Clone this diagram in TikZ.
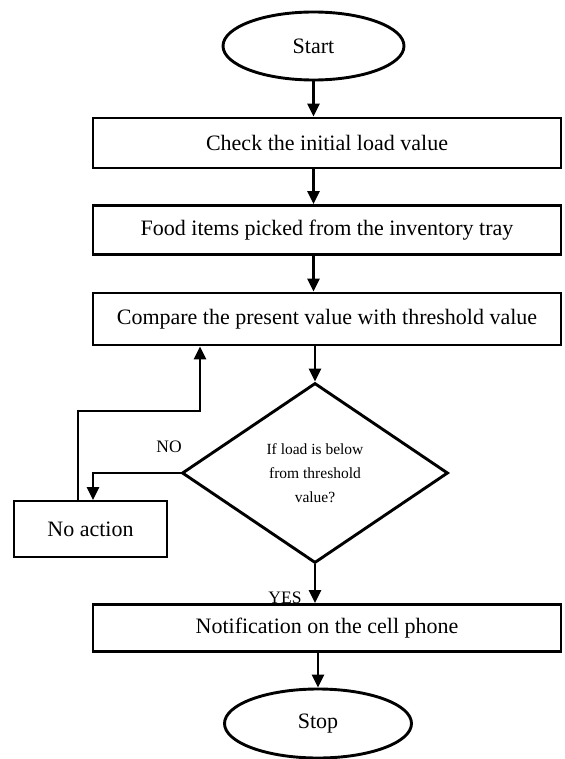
\documentclass[tikz,border=0pt]{standalone}
\usepackage{fontspec}
\setmainfont{Liberation Serif}
\usetikzlibrary{shapes.geometric,arrows.meta}
\tikzset{
  boxnode/.style={draw, line width=2.9pt, rectangle, minimum width=468pt, inner sep=0pt,
    font=\fontsize{22}{26}\selectfont},
  ovalnode/.style={draw, line width=2.9pt, ellipse, inner sep=0pt,
    font=\fontsize{22}{26}\selectfont},
  decnode/.style={draw, line width=2.9pt, diamond, minimum width=266pt, minimum height=180pt,
    inner sep=0pt, align=center, font=\fontsize{15.5}{24}\selectfont},
  lbl/.style={font=\fontsize{17.5}{20}\selectfont, inner sep=0pt},
  arr/.style={line width=2.9pt, -{Triangle[width=12pt,length=13pt]}}
}
\begin{document}
\begin{tikzpicture}[x=1pt,y=-1pt]
\useasboundingbox (0,0) rectangle (564,759);
\node[ovalnode, minimum width=181pt, minimum height=68pt] (start) at (313.5,46) {Start};
\node[boxnode, minimum height=50pt] (b1) at (327,143) {Check the initial load value};
\node[boxnode, minimum height=49pt] (b2) at (327,230) {Food items picked from the inventory tray};
\node[boxnode, minimum height=52pt] (b3) at (327,319) {Compare the present value with threshold value};
\node[decnode] (dec) at (315,473) {If load is below\\from threshold\\value?};
\node[boxnode, minimum width=153pt, minimum height=56pt] (noact) at (90.5,529) {No action};
\node[boxnode, minimum height=47pt] (b4) at (327,628) {Notification on the cell phone};
\node[ovalnode, minimum width=187pt, minimum height=69pt] (stop) at (318,723.5) {Stop};
\node[lbl] (nol) at (169,447) {NO};
\node[lbl] (yesl) at (285,598) {YES};
\coordinate (fb) at (200,411);
\coordinate (noin) at (93,500);
\coordinate (noout) at (78,500);

\draw[arr] (start.south) -- (start.south |- b1.north);
\draw[arr] (b1.south -| start.south) -- (b2.north -| start.south);
\draw[arr] (b2.south -| start.south) -- (b3.north -| start.south);
\draw[arr] (b3.south -| dec.north) -- (dec.north);
\draw[arr] (dec.west) -| (noin);
\draw[arr] (noout) |- (fb) -- (fb |- b3.south);
\draw[arr] (dec.south) -- (dec.south |- b4.north);
\draw[arr] (b4.south -| stop.north) -- (stop.north);
\end{tikzpicture}
\end{document}
